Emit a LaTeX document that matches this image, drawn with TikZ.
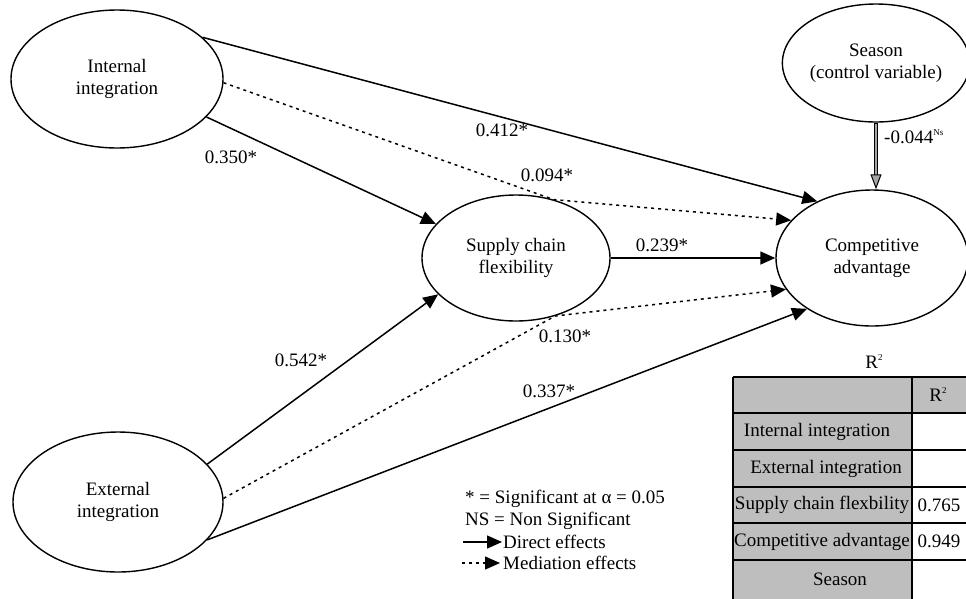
\documentclass[tikz,border=0pt]{standalone}
\usepackage{fontspec}
\setmainfont{Liberation Serif}
\usepackage{tikz}
\usetikzlibrary{positioning,calc}
\usetikzlibrary{arrows.meta,shapes.geometric}
\definecolor{CellGray}{RGB}{190,190,190}
\definecolor{ShaftGray}{RGB}{165,165,165}
\tikzset{
  latent/.style={ellipse,draw=black,fill=white,line width=1.4pt,inner sep=0pt,align=center},
  direct/.style={draw=black,line width=1.5pt,-{Triangle[length=15pt,width=13pt]}},
  mediate/.style={direct,dash pattern=on 3pt off 4pt},
  coef/.style={inner sep=1pt},
  rule/.style={draw=black,line width=1.8pt},
  cell/.style={inner sep=0pt},
}
\newcommand{\smallsup}[1]{\raisebox{8pt}{\fontsize{9}{9}\selectfont #1}}

\begin{document}
\begin{tikzpicture}[x=1pt,y=-1pt,font=\fontsize{19}{22}\selectfont]
\useasboundingbox (0,0) rectangle (966,598);
\clip (0,0) rectangle (966,598);
\node[latent,minimum width=212pt,minimum height=138pt] (ii) at (117,79) {Internal\\integration};
\node[latent,minimum width=210pt,minimum height=140pt] (ei) at (118,502) {External\\integration};
\node[latent,minimum width=188pt,minimum height=126pt] (scf) at (516,258) {Supply chain\\flexibility};
\node[latent,minimum width=192pt,minimum height=136pt] (ca) at (872,258) {Competitive\\advantage};
\node[latent,minimum width=180pt,minimum height=118pt] (sea) at (876,63) {Season\\(control variable)};
\foreach \s/\t in {ii.26/ca.134,ii.-23/scf.157,scf/ca,ei.23/scf.205,ei.-23/ca.218}
  \draw[direct] (\s) -- (\t);
\draw[mediate] (ii.-2) -- (scf.57) -- (ca.155);
\draw[mediate] (ei.2) -- (scf.-56) -- (ca.200);
\coordinate (seaend) at (sea.south |- ca.north);
\coordinate (seahead) at ($(seaend)+(0,-14)$);
\draw[line width=4.5pt] (sea.south) -- (seahead);
\draw[ShaftGray,line width=2pt] ($(sea.south)+(0,1)$) -- (seahead);
\draw[line width=1pt,-{Triangle[length=15pt,width=11pt,fill=ShaftGray]}] (seahead) -- (seaend);
\node[anchor=west,inner sep=0pt] (cs) at (884,137) {-0.044\smallsup{Ns}};
\foreach \nm/\x/\y/\val in {a/502/130/0.412*,b/547/175/0.094*,c/231/157/0.350*,d/662/245/0.239*,e/301/360/0.542*,f/565/336/0.130*,g/549/391/0.337*}
  \node[coef] (c\nm) at (\x,\y) {\val};
\node[anchor=west,inner sep=0pt] (sig) at (465,499) {* = Significant at α = 0.05};
\node[anchor=west,inner sep=0pt] (ns) at (465,520.5) {NS = Non Significant};
\coordinate (d0) at (463,542);
\coordinate (d1) at (502,542);
\draw[direct] (d0) -- (d1);
\node[anchor=west,inner sep=0pt] (dtxt) at (503,542) {Direct effects};
\coordinate (m0) at (462,563);
\coordinate (m1) at (500,563);
\draw[mediate] (m0) -- (m1);
\node[anchor=west,inner sep=0pt] (mtxt) at (503,563) {Mediation effects};
\fill[CellGray] (733,377) rectangle (990,413);
\fill[CellGray] (733,413) rectangle (912,600);
\foreach \y in {377,413,450,487,523,560}
  \draw[rule] (733,\y) -- (990,\y);
\foreach \x in {733,912}
  \draw[rule] (\x,377) -- (\x,600);
\node[cell] (rtitle) at (874,362) {R\smallsup{2}};
\node[cell] (rhead) at (938,395) {R\smallsup{2}};
\foreach \nm/\x/\y/\txt in {ti/817/431.5/Internal integration,te/826/468.5/External integration,ts/822/505/Supply chain flexbility,tc/822/541.5/Competitive advantage,tn/840/579/Season}
  \node[cell] (\nm) at (\x,\y) {\txt};
\node[cell] (vs) at (939,505) {0.765};
\node[cell] (vc) at (939,541.5) {0.949};
\end{tikzpicture}
\end{document}
